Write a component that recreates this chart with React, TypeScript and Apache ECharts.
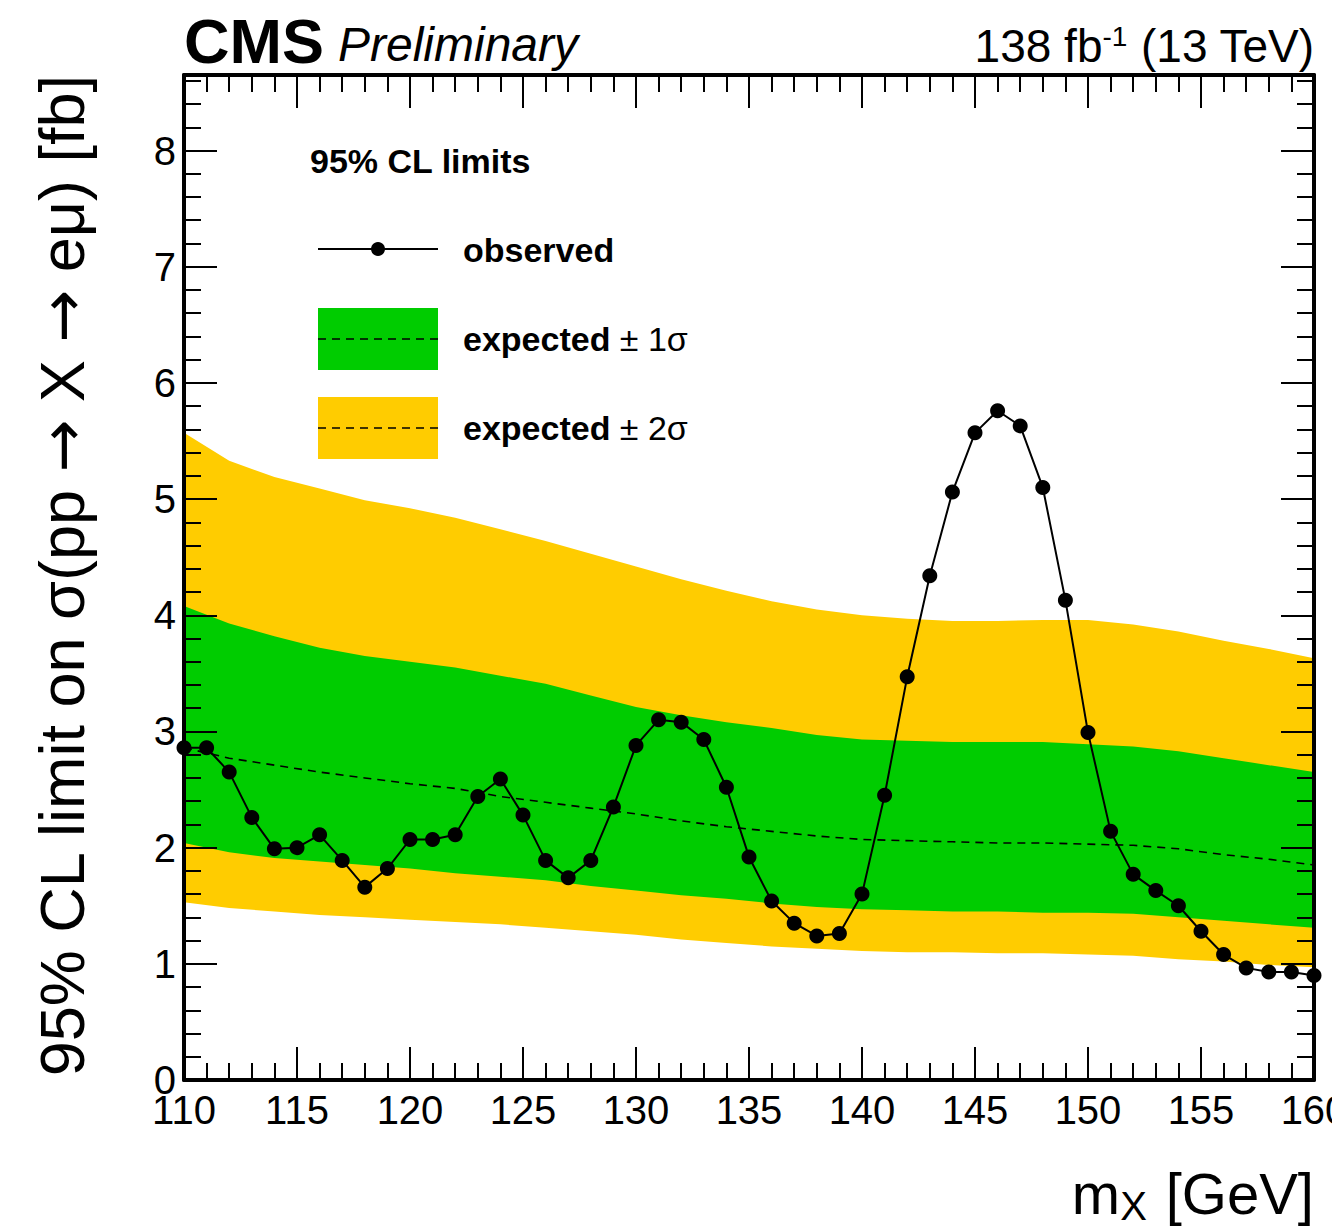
import React, { useEffect, useRef } from "react";
import * as echarts from "echarts";

// ---- data ----
const massPoints = [
  110, 111, 112, 113, 114, 115, 116, 117, 118, 119, 120, 121, 122, 123, 124, 125, 126,
  127, 128, 129, 130, 131, 132, 133, 134, 135, 136, 137, 138, 139, 140, 141, 142, 143,
  144, 145, 146, 147, 148, 149, 150, 151, 152, 153, 154, 155, 156, 157, 158, 159, 160,
];
const observed = [
  2.86, 2.86, 2.65, 2.26, 1.99, 2.0, 2.11, 1.89, 1.66, 1.82, 2.07, 2.07, 2.11, 2.44, 2.59,
  2.28, 1.89, 1.74, 1.89, 2.35, 2.88, 3.1, 3.08, 2.93, 2.52, 1.92, 1.54, 1.35, 1.24, 1.26,
  1.6, 2.45, 3.47, 4.34, 5.06, 5.57, 5.76, 5.63, 5.1, 4.13, 2.99, 2.14, 1.77, 1.63, 1.5,
  1.28, 1.08, 0.965, 0.93, 0.93, 0.9,
];

const bandMass = [
  110, 112, 114, 116, 118, 120, 122, 124, 126, 128, 130, 132, 134, 136, 138, 140, 142,
  144, 146, 148, 150, 152, 154, 156, 158, 160,
];
const expMedian = [
  2.86, 2.77, 2.71, 2.65, 2.6, 2.55, 2.51, 2.44, 2.39, 2.34, 2.29, 2.23, 2.18, 2.14, 2.1,
  2.07, 2.06, 2.05, 2.04, 2.04, 2.03, 2.02, 1.99, 1.94, 1.9, 1.85,
];
const exp1Up = [
  4.08, 3.93, 3.82, 3.72, 3.65, 3.6, 3.55, 3.48, 3.41, 3.31, 3.21, 3.14, 3.08, 3.03, 2.97,
  2.93, 2.92, 2.91, 2.91, 2.91, 2.89, 2.87, 2.83, 2.77, 2.71, 2.65,
];
const exp1Down = [
  2.04, 1.96, 1.91, 1.88, 1.85, 1.82, 1.78, 1.75, 1.72, 1.67, 1.63, 1.59, 1.56, 1.52, 1.49,
  1.47, 1.46, 1.45, 1.45, 1.44, 1.44, 1.43, 1.4, 1.37, 1.34, 1.31,
];
const exp2Up = [
  5.57, 5.33, 5.19, 5.09, 4.99, 4.92, 4.84, 4.74, 4.64, 4.53, 4.42, 4.31, 4.21, 4.12, 4.05,
  4.0, 3.97, 3.95, 3.95, 3.96, 3.96, 3.92, 3.86, 3.78, 3.71, 3.63,
];
const exp2Down = [
  1.53, 1.48, 1.45, 1.42, 1.4, 1.38, 1.36, 1.34, 1.31, 1.28, 1.25, 1.21, 1.18, 1.15, 1.13,
  1.11, 1.1, 1.1, 1.09, 1.09, 1.08, 1.07, 1.04, 1.02, 0.99, 0.97,
];

const xRange = [110, 160];
const yRange = [0, 8.65];

const FONT = "'Liberation Sans', Arial, Helvetica, sans-serif";
const ARROW_FONT = "'DejaVu Sans', 'Liberation Sans', sans-serif";
const GREEN = "#00cc00";
const YELLOW = "#ffcc00";

const zip = (xs: number[], ys: number[]) => xs.map((x, i) => [x, ys[i]]);

export default function App() {
  const ref = useRef<HTMLDivElement>(null);

  useEffect(() => {
    if (!ref.current) return;
    const chart = echarts.init(ref.current, undefined, { renderer: "svg" });

    const axisLine = { show: true, onZero: false, lineStyle: { color: "#000", width: 4 } };
    const tickStyle = { color: "#000", width: 2 };

    const xBase = (position: "bottom" | "top", labels: boolean) => ({
      type: "value",
      position,
      min: xRange[0],
      max: xRange[1],
      interval: 5,
      z: 10,
      axisLine,
      axisTick: { show: true, inside: true, length: 33, lineStyle: tickStyle },
      minorTick: { show: true, splitNumber: 5, length: 17, lineStyle: tickStyle },
      splitLine: { show: false },
      minorSplitLine: { show: false },
      axisLabel: labels
        ? { show: true, fontSize: 40, color: "#000", fontFamily: FONT, margin: 10 }
        : { show: false },
    });

    const yBase = (
      position: "left" | "right",
      interval: number,
      tickLen: number,
      labels: boolean,
      line: boolean
    ) => ({
      type: "value",
      position,
      min: yRange[0],
      max: yRange[1],
      interval,
      z: 10,
      axisLine: line ? axisLine : { show: false },
      axisTick: { show: true, inside: true, length: tickLen, lineStyle: tickStyle },
      splitLine: { show: false },
      axisLabel: labels
        ? {
            show: true,
            fontSize: 40,
            color: "#000",
            fontFamily: FONT,
            margin: 8,
            formatter: (v: number) => (Math.abs(v - Math.round(v)) < 1e-6 ? String(Math.round(v)) : ""),
          }
        : { show: false },
    });

    const area = (ys: number[], color: string, z: number) => ({
      type: "line",
      data: zip(bandMass, ys),
      symbol: "none",
      silent: true,
      z,
      lineStyle: { opacity: 0, width: 0 },
      areaStyle: { color, opacity: 1, origin: "start" },
    });

    const legendX0 = 318;
    const legendX1 = 438;

    chart.setOption({
      animation: false,
      backgroundColor: "#fff",
      grid: { left: 184, right: 18, top: 75, bottom: 151, containLabel: false, outerBoundsMode: "none" },
      xAxis: [xBase("bottom", true), xBase("top", false)],
      yAxis: [
        yBase("left", 1, 33, true, true),
        yBase("left", 0.2, 17, false, false),
        yBase("right", 1, 33, false, true),
        yBase("right", 0.2, 17, false, false),
      ],
      series: [
        area(exp2Up, YELLOW, 1),
        area(exp1Up, GREEN, 2),
        area(exp1Down, YELLOW, 3),
        area(exp2Down, "#ffffff", 4),
        {
          type: "line",
          data: zip(bandMass, expMedian),
          symbol: "none",
          silent: true,
          z: 5,
          lineStyle: { color: "#000", width: 1.6, type: [8, 6] },
        },
        {
          type: "line",
          data: zip(massPoints, observed),
          symbol: "circle",
          symbolSize: 15,
          clip: false,
          silent: true,
          z: 6,
          itemStyle: { color: "#000" },
          lineStyle: { color: "#000", width: 2 },
        },
      ],
      graphic: [
        {
          type: "text",
          x: 184,
          y: 41,
          z: 20,
          style: { text: "CMS", font: `bold 63px ${FONT}`, fill: "#000", align: "left", verticalAlign: "middle" },
        },
        {
          type: "text",
          x: 338,
          y: 44,
          z: 20,
          style: { text: "Preliminary", font: `italic 48px ${FONT}`, fill: "#000", align: "left", verticalAlign: "middle" },
        },
        {
          type: "text",
          x: 1314,
          y: 46,
          z: 20,
          style: {
            text: "{a|138 fb}{s|-1}{a| (13 TeV)}",
            align: "right",
            verticalAlign: "middle",
            rich: {
              a: { font: `46px ${FONT}`, fill: "#000", color: "#000" },
              s: { font: `28px ${FONT}`, fill: "#000", color: "#000", padding: [0, 0, 20, 0] },
            },
          },
        },
        {
          type: "text",
          x: 62,
          y: 75,
          rotation: Math.PI / 2,
          z: 20,
          style: {
            text: "{t|95% CL limit on σ(pp }{r|→}{t| X }{r|→}{t| eμ) [fb]}",
            align: "right",
            verticalAlign: "middle",
            rich: {
              t: { font: `63px ${FONT}`, fill: "#000", color: "#000" },
              r: { font: `63px ${ARROW_FONT}`, fill: "#000", color: "#000" },
            },
          },
        },
        {
          type: "text",
          x: 1314,
          y: 1193,
          z: 20,
          style: { text: "[GeV]", font: `58px ${FONT}`, fill: "#000", align: "right", verticalAlign: "middle" },
        },
        {
          type: "text",
          x: 1147,
          y: 1206,
          z: 20,
          style: { text: "X", font: `40px ${FONT}`, fill: "#000", align: "right", verticalAlign: "middle" },
        },
        {
          type: "text",
          x: 1120,
          y: 1193,
          z: 20,
          style: { text: "m", font: `58px ${FONT}`, fill: "#000", align: "right", verticalAlign: "middle" },
        },
        // legend
        {
          type: "text",
          x: 310,
          y: 161,
          z: 20,
          style: { text: "95% CL limits", font: `bold 34px ${FONT}`, fill: "#000", align: "left", verticalAlign: "middle" },
        },
        {
          type: "line",
          z: 20,
          shape: { x1: legendX0, y1: 249, x2: legendX1, y2: 249 },
          style: { stroke: "#000", lineWidth: 2 },
        },
        { type: "circle", z: 21, shape: { cx: 378, cy: 249, r: 7 }, style: { fill: "#000" } },
        {
          type: "text",
          x: 463,
          y: 250,
          z: 20,
          style: { text: "observed", font: `bold 34px ${FONT}`, fill: "#000", align: "left", verticalAlign: "middle" },
        },
        {
          type: "rect",
          z: 20,
          shape: { x: legendX0, y: 308, width: legendX1 - legendX0, height: 62 },
          style: { fill: GREEN },
        },
        {
          type: "line",
          z: 21,
          shape: { x1: legendX0, y1: 339, x2: legendX1, y2: 339 },
          style: { stroke: "#000", lineWidth: 1.6, lineDash: [8, 6] },
        },
        {
          type: "text",
          x: 463,
          y: 339,
          z: 20,
          style: {
            text: "{b|expected}{n| ± 1σ}",
            align: "left",
            verticalAlign: "middle",
            rich: {
              b: { font: `bold 34px ${FONT}`, fill: "#000", color: "#000" },
              n: { font: `34px ${FONT}`, fill: "#000", color: "#000" },
            },
          },
        },
        {
          type: "rect",
          z: 20,
          shape: { x: legendX0, y: 397, width: legendX1 - legendX0, height: 62 },
          style: { fill: YELLOW },
        },
        {
          type: "line",
          z: 21,
          shape: { x1: legendX0, y1: 428, x2: legendX1, y2: 428 },
          style: { stroke: "#000", lineWidth: 1.6, lineDash: [8, 6] },
        },
        {
          type: "text",
          x: 463,
          y: 428,
          z: 20,
          style: {
            text: "{b|expected}{n| ± 2σ}",
            align: "left",
            verticalAlign: "middle",
            rich: {
              b: { font: `bold 34px ${FONT}`, fill: "#000", color: "#000" },
              n: { font: `34px ${FONT}`, fill: "#000", color: "#000" },
            },
          },
        },
      ],
    });

    return () => chart.dispose();
  }, []);

  return (
    <div
      ref={ref}
      style={{ position: "fixed", left: 0, top: 0, width: 1332, height: 1231, background: "#fff" }}
    />
  );
}
